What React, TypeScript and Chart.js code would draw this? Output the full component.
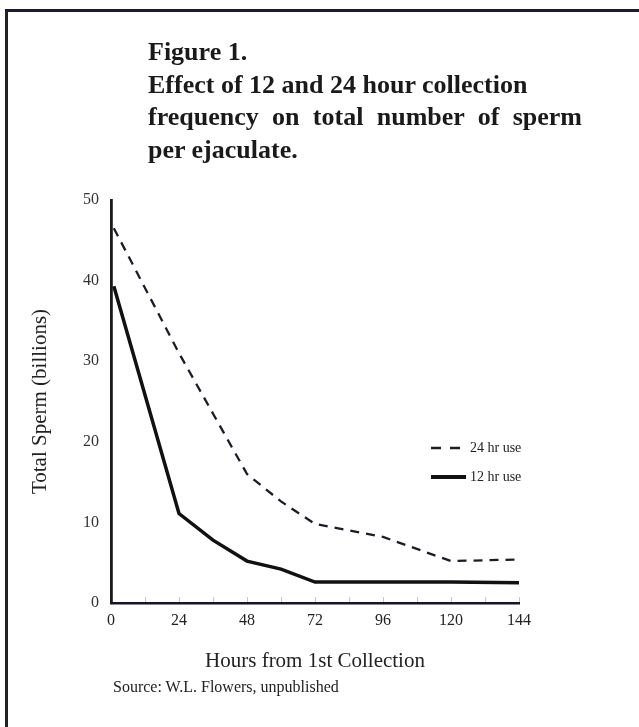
import React, { useEffect, useRef } from "react";
import { Chart, registerables } from "chart.js";

Chart.register(...registerables);

const hours12 = [1, 24, 36, 48, 60, 72, 96, 120, 144];
const sperm12 = [39.3, 11.1, 7.8, 5.2, 4.2, 2.6, 2.6, 2.6, 2.5];
const hours24 = [1, 24, 48, 60, 72, 96, 120, 144];
const sperm24 = [46.5, 31, 16, 12.6, 9.8, 8.2, 5.2, 5.4];
const label12 = "12 hr use";
const label24 = "24 hr use";
const xTickValues = [0, 24, 48, 72, 96, 120, 144];
const titleLines = [
  "Figure 1.",
  "Effect of 12 and 24 hour collection",
  "frequency on total number of sperm",
  "per ejaculate.",
];
const yTitle = "Total Sperm (billions)";
const xTitle = "Hours from 1st Collection";
const sourceText = "Source: W.L. Flowers, unpublished";

const SERIF = "'Liberation Serif', 'Times New Roman', serif";

const legendPlugin = {
  id: "inlineLegend",
  afterDraw(chart: any) {
    const { ctx } = chart;
    const items = [
      { ds: chart.data.datasets[0], y: 448, w: 2.5, x1: 431, x2: 460 },
      { ds: chart.data.datasets[1], y: 477, w: 4, x1: 431, x2: 466 },
    ];
    ctx.save();
    items.forEach((it) => {
      ctx.beginPath();
      ctx.strokeStyle = it.ds.borderColor;
      ctx.lineWidth = it.w;
      ctx.setLineDash(it.ds.borderDash ? [10, 9] : []);
      ctx.moveTo(it.x1, it.y);
      ctx.lineTo(it.x2, it.y);
      ctx.stroke();
      ctx.setLineDash([]);
      ctx.fillStyle = "#222";
      ctx.font = "14px " + SERIF;
      ctx.textBaseline = "middle";
      ctx.textAlign = "left";
      ctx.fillText(it.ds.label, 470, it.y);
    });
    ctx.restore();
  },
};

export default function App() {
  const ref = useRef<HTMLCanvasElement>(null);
  useEffect(() => {
    if (!ref.current) return;
    const chart = new Chart(ref.current, {
      type: "line",
      data: {
        datasets: [
          {
            label: label24,
            data: hours24.map((h, i) => ({ x: h, y: sperm24[i] })),
            borderColor: "#1c1c28",
            borderWidth: 2.3,
            borderDash: [9, 7],
            pointRadius: 0,
            tension: 0,
            fill: false,
          },
          {
            label: label12,
            data: hours12.map((h, i) => ({ x: h, y: sperm12[i] })),
            borderColor: "#111111",
            borderWidth: 3.5,
            pointRadius: 0,
            tension: 0,
            fill: false,
          },
        ],
      },
      plugins: [legendPlugin],
      options: {
        animation: false,
        responsive: false,
        maintainAspectRatio: false,
        layout: { padding: { left: 0, right: 120, top: 200, bottom: 44 } },
        plugins: {
          legend: { display: false },
          tooltip: { enabled: false },
          title: { display: false },
        },
        scales: {
          x: {
            type: "linear",
            min: 0,
            max: 144,
            afterFit: (s: any) => {
              s.height = 80;
            },
            afterBuildTicks: (s: any) => {
              const t = [];
              for (let v = 0; v <= 144; v += 12) t.push({ value: v });
              s.ticks = t;
            },
            ticks: {
              autoSkip: false,
              maxRotation: 0,
              padding: 14,
              color: "#222",
              font: { family: SERIF, size: 16 },
              callback: (v: any) => (xTickValues.includes(Number(v)) ? String(v) : ""),
            },
            grid: {
              display: true,
              drawOnChartArea: false,
              drawTicks: true,
              tickLength: -6,
              color: "#c8c8c8",
              lineWidth: 1,
            },
            border: { display: true, color: "#15152a", width: 2.5 },
            title: {
              display: true,
              text: xTitle,
              color: "#222",
              font: { family: SERIF, size: 21 },
              padding: { top: 0, bottom: 9 },
            },
          },
          y: {
            type: "linear",
            min: 0,
            max: 50,
            afterFit: (s: any) => {
              s.width = 111;
            },
            ticks: {
              stepSize: 10,
              padding: 12,
              color: "#333",
              font: { family: SERIF, size: 16 },
            },
            grid: { display: false, drawTicks: false },
            border: { display: true, color: "#1a1a1a", width: 2.8 },
            title: {
              display: true,
              text: yTitle,
              color: "#222",
              font: { family: SERIF, size: 21 },
              padding: { top: 28, bottom: 0 },
            },
          },
        },
      },
    });
    return () => chart.destroy();
  }, []);

  return (
    <div
      style={{
        position: "fixed",
        left: 0,
        top: 0,
        width: 639,
        height: 727,
        background: "#fff",
        overflow: "hidden",
      }}
    >
      <div
        style={{
          position: "absolute",
          left: 5,
          top: 9,
          width: 700,
          height: 800,
          borderTop: "3px solid #1a1a30",
          borderLeft: "3px solid #222",
        }}
      />
      <canvas
        ref={ref}
        width={639}
        height={727}
        style={{ position: "absolute", left: 0, top: 0, width: 639, height: 727 }}
      />
      {titleLines.map((line, i) => (
        <div
          key={i}
          style={{
            position: "absolute",
            left: 148,
            top: 36 + i * 32.5,
            width: i === 2 ? 434 : undefined,
            textAlign: i === 2 ? "justify" : "left",
            textAlignLast: i === 2 ? "justify" : undefined,
            whiteSpace: "nowrap",
            fontFamily: SERIF,
            fontWeight: "bold",
            fontSize: 26,
            lineHeight: "32.5px",
            color: "#1a1a1a",
          } as any}
        >
          {line}
        </div>
      ))}
      <div
        style={{
          position: "absolute",
          left: 113,
          top: 677,
          fontFamily: SERIF,
          fontSize: 16,
          lineHeight: "20px",
          color: "#222",
          whiteSpace: "nowrap",
        }}
      >
        {sourceText}
      </div>
    </div>
  );
}
